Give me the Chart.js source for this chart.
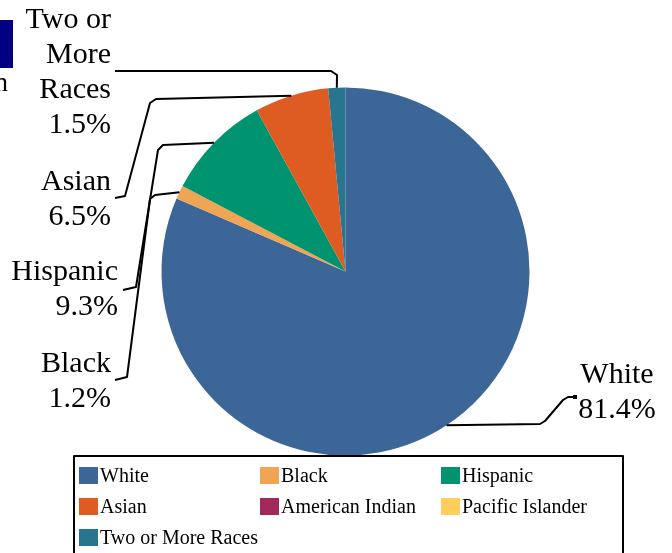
<!DOCTYPE html>
<html>
<head>
<meta charset="utf-8">
<script src="https://cdn.jsdelivr.net/npm/chart.js@4"></script>
<style>
  html, body { margin: 0; padding: 0; background: #fff; }
  canvas { display: block; }
</style>
</head>
<body>
<canvas id="chart" width="672" height="553"></canvas>
<script>
// data
var categories = ['White', 'Black', 'Hispanic', 'Asian', 'American Indian', 'Pacific Islander', 'Two or More Races'];
var shares = [81.4, 1.2, 9.3, 6.5, 0, 0, 1.5];
var colors = ['#3c6698', '#f0a554', '#00936f', '#de5b21', '#a2295c', '#ffcf5e', '#27758e'];
// how the slice labels break into lines
var labelLines = [['White'], ['Black'], ['Hispanic'], ['Asian'], ['American Indian'], ['Pacific Islander'], ['Two or', 'More', 'Races']];

// where each label sits and the bends of its leader line (slice end is computed)
var labelLayout = {
	0: { x: 617, y: 383, align: 'center', path: [[575, 397], [568, 397], [563, 400], [545, 421], [540, 424]], dot: true },
	1: { x: 111, y: 372, align: 'right', path: [[115, 380], [127, 377], [150, 199], [155, 195]] },
	2: { x: 118, y: 280, align: 'right', path: [[123, 290], [136, 287], [158, 150], [163, 145]] },
	3: { x: 111, y: 190, align: 'right', path: [[115, 198], [125, 196], [150, 103], [156, 99]] },
	6: { x: 111, y: 28, align: 'right', path: [[115, 71], [331, 71], [337, 75]] }
};

var SERIF = '"Liberation Serif", "Times New Roman", serif';

var decorations = {
	id: 'decorations',
	afterDraw: function(chart) {
		var ctx = chart.ctx;
		var meta = chart.getDatasetMeta(0);
		ctx.save();

		// clipped title remains at top left
		ctx.fillStyle = '#000080';
		ctx.fillRect(0, 20, 13, 48);
		ctx.fillStyle = '#000';
		ctx.font = '27px ' + SERIF;
		ctx.textAlign = 'right';
		ctx.textBaseline = 'alphabetic';
		ctx.fillText('n', 8, 91);

		// leader lines + slice labels
		ctx.strokeStyle = '#000';
		ctx.lineWidth = 2;
		ctx.lineJoin = 'round';
		ctx.lineCap = 'butt';
		for (var i = 0; i < shares.length; i++) {
			var lay = labelLayout[i];
			if (!lay || !shares[i]) continue;
			var arc = meta.data[i];
			var mid = (arc.startAngle + arc.endAngle) / 2;
			var ax = arc.x + Math.cos(mid) * arc.outerRadius;
			var ay = arc.y + Math.sin(mid) * arc.outerRadius;
			ctx.beginPath();
			ctx.moveTo(lay.path[0][0], lay.path[0][1]);
			for (var p = 1; p < lay.path.length; p++) ctx.lineTo(lay.path[p][0], lay.path[p][1]);
			ctx.lineTo(ax, ay);
			ctx.stroke();
			if (lay.dot) ctx.fillRect(lay.path[0][0] - 2, lay.path[0][1] - 2, 4, 4);

			var lines = labelLines[i].concat([shares[i].toFixed(1) + '%']);
			ctx.font = '30px ' + SERIF;
			ctx.textAlign = lay.align;
			ctx.fillStyle = '#000';
			for (var l = 0; l < lines.length; l++) {
				ctx.fillText(lines[l], lay.x, lay.y + l * 35);
			}
		}

		// legend box
		ctx.fillStyle = '#fff';
		ctx.fillRect(74, 456, 549, 110);
		ctx.strokeStyle = '#000';
		ctx.lineWidth = 2;
		ctx.strokeRect(74, 456, 549, 110);
		var colX = [79, 260, 441];
		var rowY = [475.5, 506.5, 537.5];
		ctx.font = '20px ' + SERIF;
		ctx.textAlign = 'left';
		ctx.textBaseline = 'middle';
		for (var k = 0; k < categories.length; k++) {
			var cx = colX[k % 3], cy = rowY[Math.floor(k / 3)];
			ctx.fillStyle = colors[k];
			ctx.fillRect(cx, cy - 8.5, 19, 17);
			ctx.fillStyle = '#000';
			ctx.fillText(categories[k], cx + 21, cy + 1);
		}
		ctx.restore();
	}
};

var chart = new Chart(document.getElementById('chart').getContext('2d'), {
	type: 'pie',
	data: {
		labels: categories,
		datasets: [{
			data: shares,
			backgroundColor: colors,
			borderWidth: 0
		}]
	},
	options: {
		responsive: false,
		animation: false,
		layout: { padding: { left: 161.5, right: 142.5, top: 87.5, bottom: 97.5 } },
		plugins: {
			legend: { display: false },
			tooltip: { enabled: false }
		}
	},
	plugins: [decorations]
});
</script>
</body>
</html>
